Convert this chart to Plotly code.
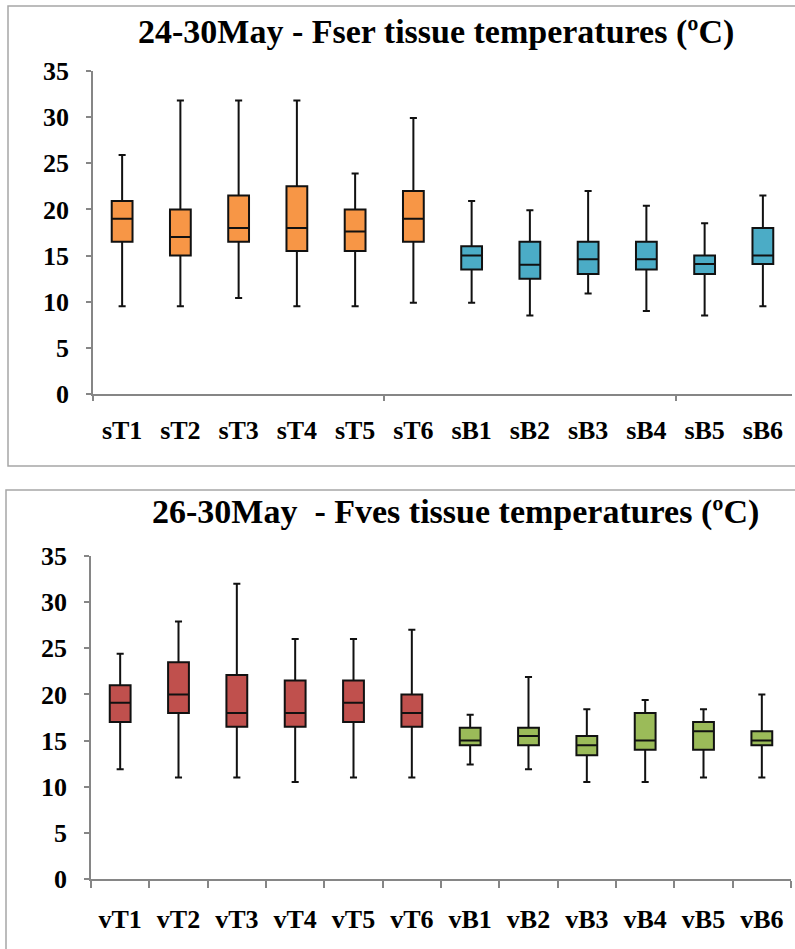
import plotly.graph_objects as go

# ---- data (top panel: 24-30 May, Fser) ----
s_cats = ["sT1", "sT2", "sT3", "sT4", "sT5", "sT6", "sB1", "sB2", "sB3", "sB4", "sB5", "sB6"]
s_min = [9.5, 9.5, 10.4, 9.5, 9.5, 9.9, 9.9, 8.5, 10.9, 9.0, 8.5, 9.5]
s_q1 = [16.5, 15.0, 16.5, 15.5, 15.5, 16.5, 13.5, 12.5, 13.0, 13.5, 13.0, 14.1]
s_med = [19.0, 17.0, 18.0, 18.0, 17.6, 19.0, 15.0, 14.0, 14.6, 14.6, 14.1, 15.0]
s_q3 = [20.9, 20.0, 21.5, 22.5, 20.0, 22.0, 16.0, 16.5, 16.5, 16.5, 15.0, 18.0]
s_max = [25.9, 31.8, 31.8, 31.8, 23.9, 29.9, 20.9, 19.9, 22.0, 20.4, 18.5, 21.5]

# ---- data (bottom panel: 26-30 May, Fves) ----
v_cats = ["vT1", "vT2", "vT3", "vT4", "vT5", "vT6", "vB1", "vB2", "vB3", "vB4", "vB5", "vB6"]
v_min = [11.9, 11.0, 11.0, 10.5, 11.0, 11.0, 12.4, 11.9, 10.5, 10.5, 11.0, 11.0]
v_q1 = [17.0, 18.0, 16.5, 16.5, 17.0, 16.5, 14.5, 14.5, 13.4, 14.0, 14.0, 14.5]
v_med = [19.1, 20.0, 18.0, 18.0, 19.1, 18.0, 15.0, 15.5, 14.5, 15.0, 16.0, 15.0]
v_q3 = [21.0, 23.5, 22.1, 21.5, 21.5, 20.0, 16.4, 16.4, 15.5, 18.0, 17.0, 16.0]
v_max = [24.4, 27.9, 32.0, 26.0, 26.0, 27.0, 17.8, 21.9, 18.4, 19.4, 18.4, 20.0]

titles = ["24-30May - Fser tissue temperatures (ºC)", "26-30May  - Fves tissue temperatures (ºC)"]
c_orange, c_blue, c_red, c_green = "#F79646", "#4BACC6", "#C0504D", "#9BBB59"

W, H = 795, 949
FONT = "Liberation Serif, Times New Roman, serif"
AXC = "#868686"

fig = go.Figure()

def add_boxes(cats, lo, q1, med, q3, hi, color, xa, ya):
    fig.add_trace(go.Box(
        x=cats, q1=q1, median=med, q3=q3, lowerfence=lo, upperfence=hi,
        fillcolor=color, line=dict(color="#111111", width=2),
        whiskerwidth=0.34, boxpoints=False, showlegend=False,
        hoverinfo="skip", xaxis=xa, yaxis=ya))

add_boxes(s_cats[:6], s_min[:6], s_q1[:6], s_med[:6], s_q3[:6], s_max[:6], c_orange, "x", "y")
add_boxes(s_cats[6:], s_min[6:], s_q1[6:], s_med[6:], s_q3[6:], s_max[6:], c_blue, "x", "y")
add_boxes(v_cats[:6], v_min[:6], v_q1[:6], v_med[:6], v_q3[:6], v_max[:6], c_red, "x2", "y2")
add_boxes(v_cats[6:], v_min[6:], v_q1[6:], v_med[6:], v_q3[6:], v_max[6:], c_green, "x2", "y2")
# empty trace to carry the tick-only overlay axis of the top panel
fig.add_trace(go.Scatter(x=[], y=[], xaxis="x3", yaxis="y", showlegend=False))

tickfont = dict(family=FONT, size=26, color="black", weight="bold")

top_y = [1 - 394 / H, 1 - 71 / H]
bot_y = [1 - 879 / H, 1 - 556 / H]
top_x = [93 / W, 792 / W]
bot_x = [91 / W, 791 / W]

yax = dict(range=[0, 35], dtick=5, tick0=0, showgrid=False, zeroline=False,
           showline=True, linecolor=AXC, linewidth=1.5, ticks="outside",
           ticklen=5, tickcolor=AXC, tickwidth=1.5, tickfont=tickfont,
           ticklabelstandoff=12, automargin=False)

fig.update_layout(
    template="none",
    width=W, height=H, margin=dict(l=0, r=0, t=0, b=0, pad=0, autoexpand=False),
    paper_bgcolor="white", plot_bgcolor="white",
    boxmode="overlay", boxgap=0.49,
    xaxis=dict(domain=top_x, anchor="y", type="category", categoryorder="array",
               categoryarray=s_cats, range=[-0.5, 11.5], showgrid=False,
               showline=True, linecolor=AXC, linewidth=1.5, ticks="",
               tickfont=tickfont, ticklabelstandoff=12, automargin=False),
    xaxis3=dict(domain=top_x, anchor="y", overlaying="x", range=[-0.5, 11.5],
                tickmode="array", tickvals=[-0.5, 4.5, 9.5], ticks="outside",
                ticklen=6, tickcolor=AXC, tickwidth=1.5, showticklabels=False,
                showgrid=False, zeroline=False, showline=False, automargin=False),
    yaxis=dict(domain=top_y, anchor="x", **yax),
    xaxis2=dict(domain=bot_x, anchor="y2", type="category", categoryorder="array",
                categoryarray=v_cats, range=[-0.5, 11.5], showgrid=False,
                showline=True, linecolor=AXC, linewidth=1.5, ticks="outside",
                tickson="boundaries", ticklen=7, tickcolor=AXC, tickwidth=1.5,
                tickfont=tickfont, ticklabelstandoff=16, automargin=False),
    yaxis2=dict(domain=bot_y, anchor="x2", **yax),
)

titlefont = dict(family=FONT, size=34, color="black", weight="bold")
fig.add_annotation(text=titles[0], x=436 / W, y=1 - 32 / H, xref="paper", yref="paper",
                   showarrow=False, font=titlefont, xanchor="center", yanchor="middle")
fig.add_annotation(text=titles[1], x=455 / W, y=1 - 512 / H, xref="paper", yref="paper",
                   showarrow=False, font=titlefont, xanchor="center", yanchor="middle")

border = dict(color="#A6A6A6", width=1.5)
# panel frames (right side and bottom of lower panel run off the page)
t0, t1, l0 = 1 - 466 / H, 1 - 6 / H, 8 / W
fig.add_shape(type="path", xref="paper", yref="paper",
              path=f"M 1 {t1} L {l0} {t1} L {l0} {t0} L 1 {t0}", line=border, layer="below")
b1, l1 = 1 - 490 / H, 6 / W
fig.add_shape(type="path", xref="paper", yref="paper",
              path=f"M 1 {b1} L {l1} {b1} L {l1} 0", line=border, layer="below")

fig.write_html("out.html")
